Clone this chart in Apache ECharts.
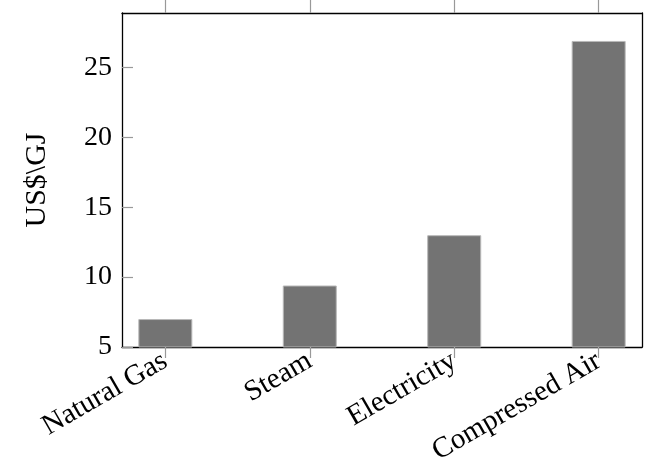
<!DOCTYPE html>
<html>
<head>
<meta charset="utf-8">
<script src="https://cdn.jsdelivr.net/npm/echarts@6/dist/echarts.min.js"></script>
<style>
  html, body { margin: 0; padding: 0; background: #fff; }
  #chart { width: 649px; height: 459px; }
</style>
</head>
<body>
<div id="chart"></div>
<script>
// Energy carriers and their cost in US$ per GJ
const categories = ['Natural Gas', 'Steam', 'Electricity', 'Compressed Air'];
const costs = [7.0, 9.4, 13.0, 26.9];
const yTicks = [5, 10, 15, 20, 25];
const yLabel = 'US$\\GJ';

const FONT = '"Liberation Serif", "Times New Roman", serif';
const positions = categories.map((_, i) => i);

const chart = echarts.init(document.getElementById('chart'), null, { renderer: 'canvas' });

const frameLine = { show: true, onZero: false, lineStyle: { color: '#000', width: 1.3 } };

chart.setOption({
  animation: false,
  backgroundColor: '#fff',
  grid: {
    left: 122, right: 7, top: 13, bottom: 112,
    containLabel: false,
    outerBoundsMode: 'none'
  },
  xAxis: [
    {
      type: 'value',
      position: 'bottom',
      min: -0.3,
      max: 3.3,
      axisLine: frameLine,
      splitLine: { show: false },
      axisTick: {
        show: true, inside: false, length: 11,
        customValues: positions,
        lineStyle: { color: '#999', width: 1.2 }
      },
      axisLabel: {
        show: true,
        customValues: positions,
        rotate: 30,
        margin: 12,
        fontFamily: FONT,
        fontSize: 29,
        color: '#000',
        formatter: v => categories[Math.round(v)] || ''
      }
    },
    {
      type: 'value',
      position: 'top',
      min: -0.3,
      max: 3.3,
      axisLine: frameLine,
      splitLine: { show: false },
      axisTick: {
        show: true, inside: false, length: 13,
        customValues: positions,
        lineStyle: { color: '#999', width: 1.2 }
      },
      axisLabel: { show: false }
    }
  ],
  yAxis: [
    {
      type: 'value',
      position: 'left',
      min: 5,
      max: 28.9,
      interval: 5,
      axisLine: frameLine,
      splitLine: { show: false },
      axisTick: {
        show: true, inside: true, length: 11,
        customValues: yTicks,
        lineStyle: { color: '#999', width: 1.2 }
      },
      axisLabel: {
        customValues: yTicks,
        margin: 10,
        fontFamily: FONT,
        fontSize: 28,
        color: '#000'
      },
      name: yLabel,
      nameLocation: 'middle',
      nameGap: 70,
      nameRotate: 90,
      nameTextStyle: { fontFamily: FONT, fontSize: 30, color: '#000' }
    },
    {
      type: 'value',
      position: 'right',
      min: 5,
      max: 28.9,
      interval: 5,
      axisLine: frameLine,
      splitLine: { show: false },
      axisTick: { show: false },
      axisLabel: { show: false }
    }
  ],
  series: [
    {
      type: 'bar',
      xAxisIndex: 0,
      yAxisIndex: 0,
      barWidth: 54,
      clip: true,
      data: costs.map((v, i) => [positions[i], v]),
      itemStyle: { color: '#737373', borderColor: '#b8b8b8', borderWidth: 1 }
    }
  ]
});
</script>
</body>
</html>
